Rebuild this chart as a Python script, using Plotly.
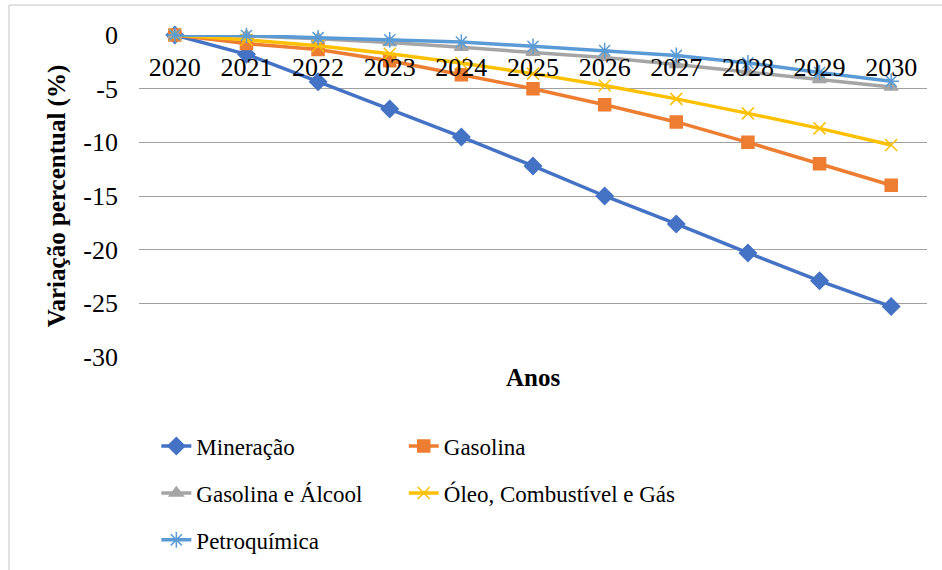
import plotly.graph_objects as go

# Percentage change by sector, 2020-2030
anos = ["2020", "2021", "2022", "2023", "2024", "2025", "2026", "2027", "2028", "2029", "2030"]
mineracao = [0, -1.8, -4.35, -6.9, -9.5, -12.2, -15.0, -17.6, -20.3, -22.9, -25.3]
gasolina = [0, -0.8, -1.35, -2.4, -3.7, -5.0, -6.5, -8.1, -10.0, -12.0, -14.0]
gasolina_alcool = [0, -0.1, -0.35, -0.7, -1.15, -1.6, -2.1, -2.75, -3.45, -4.15, -4.85]
oleo_comb_gas = [0, -0.45, -1.0, -1.75, -2.6, -3.6, -4.7, -5.95, -7.3, -8.7, -10.25]
petroquimica = [0, -0.05, -0.25, -0.45, -0.65, -1.05, -1.45, -1.9, -2.6, -3.5, -4.3]

# y axis ticks, written with a plain hyphen
y_ticks = [0, -5, -10, -15, -20, -25, -30]
y_tick_labels = ["0", "-5", "-10", "-15", "-20", "-25", "-30"]

FONT = "Liberation Serif, Times New Roman, serif"

series = [
    ("Mineração", mineracao, "#4472C4", "diamond", 13, "legend"),
    ("Gasolina", gasolina, "#ED7D31", "square", 12, "legend2"),
    ("Gasolina e Álcool", gasolina_alcool, "#A5A5A5", "triangle-up", 12, "legend"),
    ("Óleo, Combustível e Gás", oleo_comb_gas, "#FFC000", "x-thin-open", 12, "legend2"),
    ("Petroquímica", petroquimica, "#5B9BD5", "asterisk-open", 13, "legend"),
]

fig = go.Figure()
for name, vals, color, symbol, size, leg in series:
    fig.add_trace(go.Scatter(
        x=anos, y=vals, name=name, mode="lines+markers",
        line=dict(color=color, width=3.5),
        marker=dict(symbol=symbol, size=size, color=color,
                    line=dict(color=color, width=1.5)),
        cliponaxis=False, legend=leg, legendgroup=name,
    ))

legend_style = dict(
    orientation="v", font=dict(family=FONT, size=23, color="#000000"),
    bgcolor="rgba(0,0,0,0)", borderwidth=0, tracegroupgap=14,
    itemwidth=30, yanchor="top", xanchor="left", traceorder="grouped",
)

fig.update_layout(
    width=942, height=570,
    margin=dict(l=139, r=15, t=35, b=213, autoexpand=False),
    paper_bgcolor="#ffffff", plot_bgcolor="#ffffff",
    font=dict(family=FONT, size=26, color="#000000"),
    showlegend=True,
    legend=dict(x=0.022, y=-0.21, **legend_style),
    legend2=dict(x=0.336, y=-0.21, **legend_style),
    xaxis=dict(
        type="category", range=[-0.5, 10.5],
        anchor="free", position=1, side="bottom",
        showgrid=False, showline=False, zeroline=False,
        ticks="", ticklabelstandoff=14,
        tickfont=dict(family=FONT, size=26, color="#000000"),
    ),
    yaxis=dict(
        range=[-30, 0], tickvals=y_ticks, ticktext=y_tick_labels,
        showgrid=True, gridcolor="#a0a0a0", gridwidth=1,
        zeroline=False, showline=False, ticks="", ticklabelstandoff=20,
        tickfont=dict(family=FONT, size=26, color="#000000"),
        title=dict(text="<b>Variação percentual (%)</b>", standoff=10,
                   font=dict(family=FONT, size=25, color="#000000")),
    ),
    annotations=[dict(
        text="<b>Anos</b>", xref="paper", yref="paper", x=0.5, y=-0.065,
        xanchor="center", yanchor="middle", showarrow=False,
        font=dict(family=FONT, size=25, color="#000000"),
    )],
    shapes=[dict(
        type="rect", xref="paper", yref="paper",
        x0=-0.165, x1=1.05, y0=-0.72, y1=1.093,
        line=dict(color="#c6c6c6", width=1), fillcolor="rgba(0,0,0,0)",
        layer="below",
    )],
)

fig.write_html("out.html")
